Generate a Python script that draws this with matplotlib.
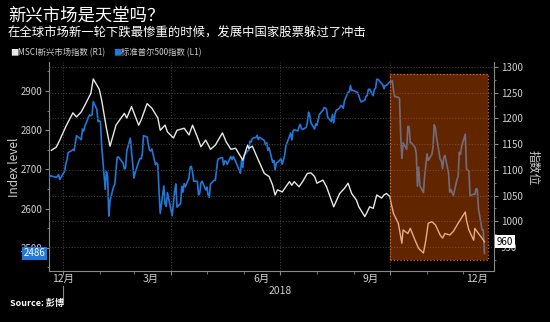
import matplotlib
matplotlib.use("Agg")
import matplotlib.pyplot as plt
import matplotlib.transforms as mtransforms
import pandas as pd
import numpy as np

plt.rcParams['font.family'] = ['Noto Sans CJK SC', 'DejaVu Sans']

# ---- data -------------------------------------------------------------
# S&P 500 daily closes, 2017-12-20 .. 2018-12-19 (NYSE trading days)
us_holidays = ['2017-12-25', '2018-01-01', '2018-01-15', '2018-02-19', '2018-03-30',
               '2018-05-28', '2018-07-04', '2018-09-03', '2018-11-22', '2018-12-05']
spx_values = [
    2679, 2684, 2683, 2680, 2682, 2687, 2674,
    2695, 2713, 2724, 2743, 2748, 2751, 2748, 2767, 2786, 2776, 2803, 2798, 2810, 2833,
    2839, 2837, 2839, 2873, 2853, 2822, 2824,
    2822, 2762, 2649, 2695, 2682, 2581, 2620, 2656, 2662, 2698, 2731, 2732, 2716, 2701,
    2703, 2747, 2780, 2744, 2714,
    2678, 2691, 2720, 2728, 2727, 2739, 2786, 2783, 2765, 2749, 2747, 2752, 2712, 2717,
    2711, 2643, 2588, 2658, 2612, 2606, 2641,
    2582, 2614, 2644, 2663, 2604, 2613, 2657, 2642, 2664, 2656, 2678, 2706, 2708, 2693,
    2670, 2670, 2635, 2639, 2666, 2670, 2648,
    2655, 2635, 2629, 2663, 2672, 2672, 2697, 2723, 2728, 2730, 2711, 2722, 2720, 2713,
    2733, 2725, 2733, 2727, 2721, 2690, 2724, 2705,
    2735, 2747, 2749, 2772, 2770, 2779, 2782, 2787, 2776, 2782, 2780, 2774, 2763, 2768,
    2749, 2755, 2718, 2723, 2699, 2716, 2718,
    2727, 2713, 2736, 2760, 2784, 2793, 2775, 2798, 2801, 2798, 2809, 2815, 2804, 2802,
    2807, 2820, 2846, 2838, 2819, 2803, 2816,
    2813, 2827, 2840, 2851, 2858, 2857, 2853, 2833, 2822, 2840, 2819, 2840, 2850, 2857,
    2863, 2861, 2856, 2875, 2897, 2898, 2914, 2901, 2902,
    2896, 2888, 2878, 2872, 2877, 2887, 2888, 2904, 2905, 2888, 2904, 2907, 2930, 2930,
    2919, 2916, 2906, 2914, 2914,
    2924, 2923, 2926, 2902, 2886, 2884, 2881, 2786, 2728, 2768, 2751, 2810, 2809, 2768,
    2768, 2756, 2741, 2657, 2706, 2659, 2641, 2682, 2712,
    2740, 2723, 2738, 2756, 2814, 2806, 2781, 2726, 2722, 2702, 2730, 2736, 2690, 2642,
    2649, 2633, 2674, 2682, 2744, 2738, 2760,
    2790, 2701, 2696, 2633, 2637, 2636, 2651, 2650, 2600, 2546, 2546, 2486,
]

# MSCI Emerging Markets index
msci_dates = [
    '2017-12-22', '2017-12-26', '2017-12-29', '2018-01-03', '2018-01-09', '2018-01-12',
    '2018-01-16', '2018-01-19', '2018-01-24', '2018-01-26', '2018-01-31', '2018-02-02',
    '2018-02-06', '2018-02-09', '2018-02-14', '2018-02-21', '2018-02-23', '2018-02-27',
    '2018-03-05', '2018-03-07', '2018-03-12', '2018-03-16', '2018-03-21', '2018-03-23',
    '2018-03-27', '2018-03-29', '2018-04-03', '2018-04-06', '2018-04-12', '2018-04-16',
    '2018-04-19', '2018-04-23', '2018-04-26', '2018-04-30', '2018-05-04', '2018-05-08',
    '2018-05-14', '2018-05-17', '2018-05-21', '2018-05-25', '2018-05-31', '2018-06-04',
    '2018-06-05', '2018-06-08', '2018-06-13', '2018-06-18', '2018-06-22', '2018-06-25',
    '2018-06-27', '2018-06-29', '2018-07-03', '2018-07-09', '2018-07-11', '2018-07-13',
    '2018-07-17', '2018-07-20', '2018-07-24', '2018-07-27', '2018-07-30', '2018-08-01',
    '2018-08-06', '2018-08-09', '2018-08-13', '2018-08-15', '2018-08-20', '2018-08-24',
    '2018-08-27', '2018-08-30', '2018-09-03', '2018-09-05', '2018-09-10', '2018-09-12',
    '2018-09-14', '2018-09-17', '2018-09-20', '2018-09-24', '2018-09-26', '2018-09-28',
    '2018-10-01', '2018-10-02', '2018-10-04', '2018-10-08', '2018-10-11', '2018-10-12',
    '2018-10-16', '2018-10-18', '2018-10-22', '2018-10-25', '2018-10-29', '2018-10-31',
    '2018-11-02', '2018-11-05', '2018-11-08', '2018-11-12', '2018-11-14', '2018-11-16',
    '2018-11-20', '2018-11-23', '2018-11-27', '2018-12-03', '2018-12-04', '2018-12-06',
    '2018-12-10', '2018-12-11', '2018-12-14', '2018-12-17', '2018-12-19',
]
msci_values = [
    1138, 1144, 1158, 1184, 1211, 1203, 1213, 1226, 1249, 1277, 1257, 1236,
    1181, 1146, 1187, 1210, 1201, 1223, 1187, 1197, 1229, 1220, 1201, 1177,
    1187, 1174, 1162, 1177, 1181, 1168, 1187, 1164, 1145, 1158, 1140, 1148,
    1172, 1155, 1140, 1142, 1119, 1148, 1142, 1146, 1119, 1093, 1087, 1070,
    1051, 1061, 1057, 1077, 1070, 1077, 1067, 1077, 1093, 1094, 1087, 1074,
    1080, 1067, 1041, 1028, 1054, 1064, 1074, 1054, 1041, 1028, 1009, 1018,
    1028, 1025, 1051, 1045, 1051, 1054, 1048, 1035, 1015, 996, 957, 983,
    976, 986, 963, 947, 938, 963, 996, 999, 993, 973, 967, 976,
    973, 980, 996, 1018, 1002, 983, 963, 986, 976, 967, 960,
]

msci_name = 'MSCI新兴市场指数 (R1)'
spx_name = '标准普尔500指数 (L1)'
month_labels = ['12月', '3月', '6月', '9月', '12月']
month_label_dates = ['2018-01-01', '2018-03-15', '2018-06-16', '2018-09-15', '2018-12-13']
year_label = '2018'
shade_start, shade_end = '2018-10-01', '2018-12-22'

# ---- figure -----------------------------------------------------------
BG = 'black'
GRID = '#3c3c3c'
SPINE = '#8a8a8a'
TXT = '#cfcfcf'
BLUE = '#1f78da'
WHITE = '#e8e8e8'

bday = pd.offsets.CustomBusinessDay(holidays=us_holidays)
spx_dates = pd.date_range('2017-12-20', periods=len(spx_values), freq=bday)
msci_idx = pd.to_datetime(msci_dates)

fig = plt.figure(figsize=(5.5, 3.22), dpi=100, facecolor=BG)
W, H = 550, 322
ax = fig.add_axes([49 / W, 1 - 271 / H, (494 - 49) / W, (271 - 62) / H])
ax.set_facecolor(BG)
ax2 = ax.twinx()

ax.plot(spx_dates, spx_values, color=BLUE, lw=1.2, zorder=3)
ax2.plot(msci_idx, msci_values, color=WHITE, lw=1.0, zorder=3)

ax.set_xlim(pd.Timestamp('2017-12-20'), pd.Timestamp('2018-12-27'))
ax.set_ylim(2441, 2974)
ax2.set_ylim(903, 1310)

# highlighted period
ax2.axvspan(pd.Timestamp(shade_start), pd.Timestamp(shade_end), ymin=0.053, ymax=0.943,
            facecolor='#e85a00', alpha=0.42, edgecolor='none', zorder=5)
ax2.axvspan(pd.Timestamp(shade_start), pd.Timestamp(shade_end), ymin=0.053, ymax=0.943,
            facecolor='none', edgecolor='#e0661a', lw=0.9, ls=':', zorder=6)

# axes styling
for a in (ax, ax2):
    for s in a.spines.values():
        s.set_color(SPINE)
        s.set_linewidth(0.8)
    a.spines['top'].set_visible(False)
ax.spines['right'].set_visible(False)
ax2.spines['left'].set_visible(False)
ax2.spines['bottom'].set_visible(False)

ax.set_yticks([2500, 2600, 2700, 2800, 2900])
ax.set_yticks(np.arange(2450, 2975, 50), minor=True)
ax2.set_yticks([950, 1000, 1050, 1100, 1150, 1200, 1250, 1300])
ax2.set_yticks(np.arange(925, 1310, 25), minor=True)
for a in (ax, ax2):
    a.tick_params(axis='y', which='major', colors=SPINE, labelcolor=TXT, labelsize=7,
                  length=3, width=0.8, pad=2)
    a.tick_params(axis='y', which='minor', colors=SPINE, length=1.5, width=0.6)

quarters = pd.to_datetime(['2018-01-01', '2018-04-01', '2018-07-01', '2018-10-01'])
months = pd.date_range('2018-01-01', '2018-12-01', freq='MS')
ax.set_xticks(quarters)
ax.set_xticks(months, minor=True)
ax.tick_params(axis='x', which='major', colors=SPINE, length=3, width=0.8, labelbottom=False)
ax.tick_params(axis='x', which='minor', colors=SPINE, length=2, width=0.6)

ax.grid(axis='x', which='major', color=GRID, ls=(0, (1, 1.5)), lw=0.8)
ax2.grid(axis='y', which='major', color=GRID, ls=(0, (1, 1.5)), lw=0.8)
ax.set_axisbelow(True)
ax2.set_axisbelow(True)

# month labels under the axis
xt = mtransforms.blended_transform_factory(ax.transData, fig.transFigure)
for lab, d in zip(month_labels, month_label_dates):
    ax.text(pd.Timestamp(d), 1 - 279 / H, lab, transform=xt, ha='center', va='center',
            color=TXT, fontsize=7.5)
ax.text(pd.Timestamp('2018-07-01'), 1 - 291 / H, year_label, transform=xt, ha='center',
        va='center', color=TXT, fontsize=7.5)
ax.plot([pd.Timestamp('2018-01-01')] * 2, [1 - 286 / H, 1 - 304 / H], transform=xt,
        color=SPINE, lw=0.8, clip_on=False)

# axis titles
fig.text(14 / W, 1 - 167 / H, 'Index level', rotation=90, ha='center', va='center',
         color=TXT, fontsize=8.5)
fig.text(533 / W, 1 - 168 / H, '指数位', rotation=270, ha='center', va='center',
         color=TXT, fontsize=8.5)

# last-value tags
ty = mtransforms.blended_transform_factory(ax.transAxes, ax.transData)
ax.text(-0.008, spx_values[-1], f'{spx_values[-1]}', transform=ty, ha='right', va='center',
        color='white', fontsize=7, zorder=10, clip_on=False,
        bbox=dict(boxstyle='square,pad=0.15', facecolor=BLUE, edgecolor='none'))
ty2 = mtransforms.blended_transform_factory(ax2.transAxes, ax2.transData)
ax2.text(1.006, msci_values[-1], f'{msci_values[-1]}', transform=ty2, ha='left', va='center',
         color='black', fontsize=7, zorder=10, clip_on=False,
         bbox=dict(boxstyle='square,pad=0.15', facecolor='white', edgecolor='none'))

# titles and legend
fig.text(8 / W, 1 - 16 / H, '新兴市场是天堂吗？', ha='left', va='center', color='white',
         fontsize=12.5)
fig.text(8 / W, 1 - 33 / H, '在全球市场新一轮下跌最惨重的时候，发展中国家股票躲过了冲击',
         ha='left', va='center', color='white', fontsize=8.9)
fig.text(10 / W, 1 - 53 / H, '■', ha='left', va='center', color=WHITE, fontsize=6)
fig.text(18 / W, 1 - 53 / H, msci_name, ha='left', va='center', color=TXT, fontsize=6)
fig.text(113 / W, 1 - 53 / H, '■', ha='left', va='center', color=BLUE, fontsize=6)
fig.text(121 / W, 1 - 53 / H, spx_name, ha='left', va='center', color=TXT, fontsize=6)
fig.text(10 / W, 1 - 303 / H, 'Source: 彭博', ha='left', va='center', color='white',
         fontsize=6.5, fontweight='bold')

fig.savefig('out.png', dpi=100, facecolor=BG)
